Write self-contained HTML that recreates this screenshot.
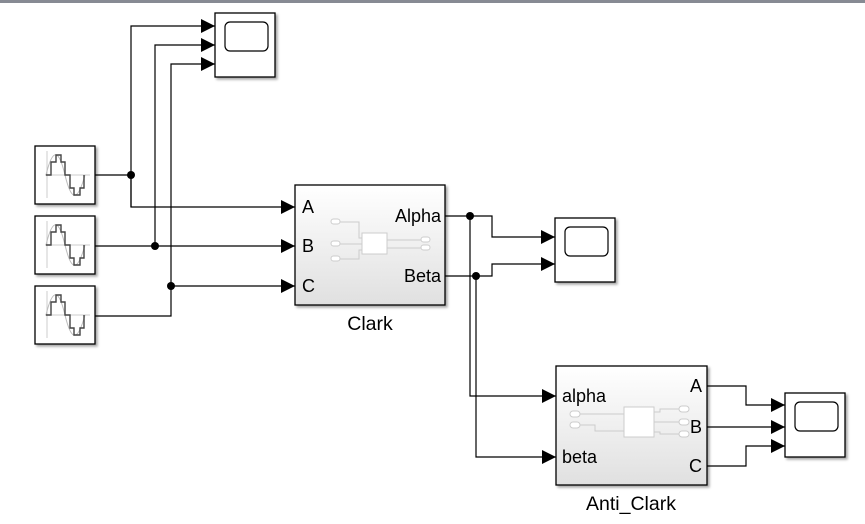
<!DOCTYPE html>
<html><head><meta charset="utf-8"><style>
html,body{margin:0;padding:0;background:#fff;}
svg{display:block;}
svg text{font-family:"Liberation Sans",sans-serif;fill:#000;}
</style></head><body>
<svg width="865" height="524" viewBox="0 0 865 524" xmlns="http://www.w3.org/2000/svg">
<defs>
<linearGradient id="g" x1="0" y1="0" x2="0" y2="1"><stop offset="0" stop-color="#ffffff"/><stop offset="1" stop-color="#e0e0e0"/></linearGradient>
<filter id="s" x="-10%" y="-10%" width="130%" height="130%"><feDropShadow dx="2" dy="2" stdDeviation="1.2" flood-color="#000" flood-opacity="0.35"/></filter>
<g id="src">
<rect x="0" y="0" width="60" height="58" fill="#fff" stroke="#000" stroke-width="1.3" filter="url(#s)"/>
<line x1="12" y1="5" x2="12" y2="52" stroke="#ccc"/>
<line x1="10" y1="29" x2="55" y2="29" stroke="#ccc"/>
<path d="M11 29 C18 0 24 4 30 29 C36 54 42 58 50 29" fill="none" stroke="#bbb"/>
<polyline points="11,29 16,29 16,16 21,16 21,9 26,9 26,16 30,16 30,29 35,29 35,42 39,42 39,49 45,49 45,42 49,42 49,29" fill="none" stroke="#444" stroke-width="1.4"/>
</g>
<g id="scope">
<rect x="0" y="0" width="60" height="64" fill="#fff" stroke="#000" stroke-width="1.3" filter="url(#s)"/>
<rect x="10" y="9" width="43" height="29" rx="5" fill="#fff" stroke="#000" stroke-width="1.2"/>
</g>
<marker id="a" viewBox="0 0 10 10" refX="10" refY="5" markerWidth="14" markerHeight="14" markerUnits="userSpaceOnUse" orient="auto"><path d="M0 0 L10 5 L0 10 z" fill="#000"/></marker>
</defs>
<rect x="0" y="0" width="865" height="3" fill="#878a93"/>

<use href="#src" x="35" y="146"/>
<use href="#src" x="35" y="216"/>
<use href="#src" x="35" y="286"/>
<use href="#scope" x="215" y="13"/>
<use href="#scope" x="555" y="218"/>
<use href="#scope" x="785" y="393"/>

<rect x="295" y="185" width="150" height="120" fill="url(#g)" stroke="#000" stroke-width="1.3" filter="url(#s)"/>
<g stroke="#ccc" fill="#fff" stroke-width="1">
<polyline points="339,222 359,222 359,238 362,238" fill="none"/>
<polyline points="339,244 362,244" fill="none"/>
<polyline points="339,259 359,259 359,250 362,250" fill="none"/>
<rect x="362" y="233" width="25" height="21"/>
<polyline points="387,240 422,240" fill="none"/>
<polyline points="387,248 422,248" fill="none"/>
<rect x="331" y="219" width="9" height="5" rx="2.5"/>
<rect x="331" y="241" width="9" height="5" rx="2.5"/>
<rect x="331" y="256" width="9" height="5" rx="2.5"/>
<rect x="421" y="237" width="9" height="5" rx="2.5"/>
<rect x="421" y="245" width="9" height="5" rx="2.5"/>
</g>
<text x="302" y="213" style="font-size:18px">A</text>
<text x="302" y="252" style="font-size:18px">B</text>
<text x="302" y="292" style="font-size:18px">C</text>
<text x="441" y="222" text-anchor="end" style="font-size:18px">Alpha</text>
<text x="441" y="282" text-anchor="end" style="font-size:18px">Beta</text>
<text x="370" y="330" text-anchor="middle" style="font-size:19.5px">Clark</text>

<rect x="556" y="366" width="151" height="119" fill="url(#g)" stroke="#000" stroke-width="1.3" filter="url(#s)"/>
<g stroke="#ccc" fill="#fff" stroke-width="1">
<polyline points="578,414 624,414" fill="none"/>
<polyline points="578,425 595,425 595,431 624,431" fill="none"/>
<rect x="624" y="407" width="30" height="30"/>
<polyline points="654,412 660,412 660,409 683,409" fill="none"/>
<polyline points="654,422 683,422" fill="none"/>
<polyline points="654,432 660,432 660,434 683,434" fill="none"/>
<rect x="570" y="411" width="10" height="6" rx="3"/>
<rect x="570" y="422" width="10" height="6" rx="3"/>
<rect x="679" y="406" width="10" height="6" rx="3"/>
<rect x="679" y="419" width="10" height="6" rx="3"/>
<rect x="679" y="431" width="10" height="6" rx="3"/>
</g>
<text x="562" y="402" style="font-size:18px">alpha</text>
<text x="562" y="463" style="font-size:18px">beta</text>
<text x="702" y="392" text-anchor="end" style="font-size:18px">A</text>
<text x="702" y="433" text-anchor="end" style="font-size:18px">B</text>
<text x="702" y="472" text-anchor="end" style="font-size:18px">C</text>
<text x="631" y="510" text-anchor="middle" style="font-size:19.5px">Anti_Clark</text>

<g stroke="#000" stroke-width="1.2" fill="none">
<polyline points="95,175 131,175"/>
<polyline points="131,207 131,26 215,26" marker-end="url(#a)"/>
<polyline points="131,175 131,207 295,207" marker-end="url(#a)"/>
<polyline points="95,246 295,246" marker-end="url(#a)"/>
<polyline points="155,246 155,45 215,45" marker-end="url(#a)"/>
<polyline points="95,316 171,316 171,64 215,64" marker-end="url(#a)"/>
<polyline points="171,286 295,286" marker-end="url(#a)"/>
<polyline points="445,216 492,216 492,237 555,237" marker-end="url(#a)"/>
<polyline points="445,276 492,276 492,264 555,264" marker-end="url(#a)"/>
<polyline points="470,216 470,396 556,396" marker-end="url(#a)"/>
<polyline points="476,276 476,457 556,457" marker-end="url(#a)"/>
<polyline points="707,386 746,386 746,405 785,405" marker-end="url(#a)"/>
<polyline points="707,427 785,427" marker-end="url(#a)"/>
<polyline points="707,466 746,466 746,446 785,446" marker-end="url(#a)"/>
</g>
<g fill="#000">
<circle cx="131" cy="175" r="4"/>
<circle cx="155" cy="246" r="4"/>
<circle cx="171" cy="286" r="4"/>
<circle cx="470" cy="216" r="4"/>
<circle cx="476" cy="276" r="4"/>
</g>
</svg>
</body></html>
